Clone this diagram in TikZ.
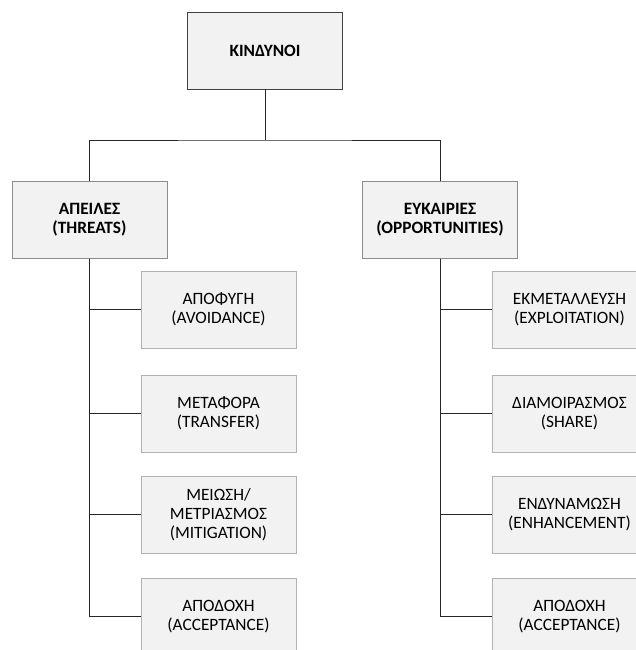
\documentclass[tikz,border=0pt]{standalone}
\usepackage{fontspec}
\setmainfont{Carlito}
\begin{document}
\begin{tikzpicture}[x=1pt,y=-1pt,
    box/.style={draw=black!30,fill=black!5,minimum width=155pt,minimum height=77pt,
        align=center,inner sep=0pt,font=\fontsize{17.3}{19}\selectfont},
    headbox/.style={box,draw=black!45,font=\fontsize{17.3}{19}\selectfont\bfseries},
    topbox/.style={headbox,draw=black!75},
    conn/.style={draw=black!85,line width=0.8pt}]
    \useasboundingbox (0,0) rectangle (636,650);
    \clip (0,0) rectangle (636,650);

    % top
    \node[topbox] (risk) at (265,50.5) {ΚΙΝΔΥΝΟΙ};
    \coordinate (fork) at (265,140);

    % two branches
    \node[headbox] (threats) at (89.5,220) {ΑΠΕΙΛΕΣ\\(THREATS)};
    \node[headbox] (opps) at (440,220) {ΕΥΚΑΙΡΙΕΣ\\(OPPORTUNITIES)};

    % threats side
    \node[box] (avoid) at (218.5,309.5) {ΑΠΟΦΥΓΗ\\(AVOIDANCE)};
    \node[box] (transfer) at (218.5,413.5) {ΜΕΤΑΦΟΡΑ\\(TRANSFER)};
    \node[box] (mitig) at (218.5,514.5) {ΜΕΙΩΣΗ/\\ΜΕΤΡΙΑΣΜΟΣ\\(MITIGATION)};
    \node[box] (acceptT) at (218.5,616.5) {ΑΠΟΔΟΧΗ\\(ACCEPTANCE)};

    % opportunities side
    \node[box] (exploit) at (569.5,309.5) {ΕΚΜΕΤΑΛΛΕΥΣΗ\\(EXPLOITATION)};
    \node[box] (share) at (569.5,413.5) {ΔΙΑΜΟΙΡΑΣΜΟΣ\\(SHARE)};
    \node[box] (enhance) at (569.5,514.5) {ΕΝΔΥΝΑΜΩΣΗ\\(ENHANCEMENT)};
    \node[box] (acceptO) at (569.5,616.5) {ΑΠΟΔΟΧΗ\\(ACCEPTANCE)};

    \draw[conn] (risk.south) -- (fork);
    \draw[conn] (threats.north) |- (fork) -| (opps.north);
    \foreach \n in {avoid,transfer,mitig,acceptT}
        \draw[conn] (threats.south) |- (\n.west);
    \foreach \n in {exploit,share,enhance,acceptO}
        \draw[conn] (opps.south) |- (\n.west);
\end{tikzpicture}
\end{document}
